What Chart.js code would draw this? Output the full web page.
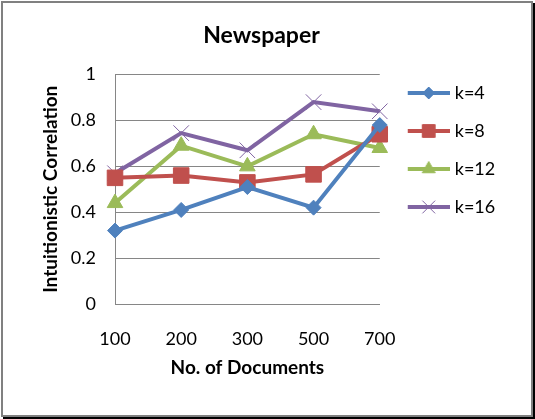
<!DOCTYPE html>
<html>
<head>
<meta charset="utf-8">
<script src="https://cdn.jsdelivr.net/npm/chart.js@4/dist/chart.umd.min.js"></script>
<style>
  body { margin: 0; background: #fff; }
  #wrap { position: relative; width: 535px; height: 419px; }
  #frame {
    position: absolute; left: 1px; top: 1px; width: 532px; height: 416px;
    box-sizing: border-box; border: 2px solid #808080;
    box-shadow: 2px 2px 0 #000; pointer-events: none;
  }
</style>
</head>
<body>
<div id="wrap">
  <canvas id="chart" width="535" height="419"></canvas>
  <div id="frame"></div>
</div>
<script>
const docs = ['100', '200', '300', '500', '700'];
const k4 = [0.32, 0.41, 0.51, 0.42, 0.78];
const k8 = [0.55, 0.56, 0.53, 0.565, 0.74];
const k12 = [0.44, 0.69, 0.60, 0.74, 0.68];
const k16 = [0.57, 0.745, 0.67, 0.88, 0.84];

const FONT = 'Lato';

// little line + marker picture for the legend
function legendIcon(color, style, radius, borderWidth) {
  const c = document.createElement('canvas');
  c.width = 54; c.height = 20;
  const g = c.getContext('2d');
  g.strokeStyle = color;
  g.lineWidth = 4;
  g.beginPath(); g.moveTo(12, 10); g.lineTo(54, 10); g.stroke();
  g.fillStyle = color;
  g.lineWidth = borderWidth;
  Chart.helpers.drawPoint(g, {pointStyle: style, radius: radius, borderWidth: borderWidth, rotation: 0}, 33, 10);
  return c;
}

function series(label, data, color, style, radius, bw, legendRadius) {
  return {
    label: label, data: data,
    borderColor: color, backgroundColor: color,
    borderWidth: 4, tension: 0,
    pointStyle: style, pointRadius: radius, pointHoverRadius: radius,
    pointBorderWidth: bw, pointBackgroundColor: color, pointBorderColor: color,
    clip: false,
    icon: legendIcon(color, style, legendRadius, bw)
  };
}

new Chart(document.getElementById('chart'), {
  type: 'line',
  data: {
    labels: docs,
    datasets: [
      series('k=4', k4, '#4F81BD', 'rectRot', 7.5, 1, 6),
      series('k=8', k8, '#C0504D', 'rect', 11, 1, 9),
      series('k=12', k12, '#9BBB59', 'triangle', 9, 1, 7.5),
      series('k=16', k16, '#8064A2', 'crossRot', 11, 1, 9)
    ]
  },
  options: {
    responsive: false,
    animation: false,
    events: [],
    layout: { padding: { left: 25, right: 37, top: 0, bottom: 0 } },
    plugins: {
      title: {
        display: true, text: 'Newspaper', color: '#000',
        font: { family: FONT, size: 23, weight: 'bold' },
        padding: { top: 22, bottom: 25 }
      },
      legend: {
        position: 'right', align: 'start',
        // empty title only pushes the entries down beside the plot
        title: { display: true, text: '', font: { size: 10, lineHeight: 1 }, padding: { top: 54, bottom: 0 } },
        labels: {
          usePointStyle: true, pointStyleWidth: 46, padding: 20,
          color: '#000', font: { family: FONT, size: 18 },
          generateLabels: chart => chart.data.datasets.map((ds, i) => ({
            text: ds.label, pointStyle: ds.icon, datasetIndex: i,
            fontColor: '#000', lineWidth: 0, hidden: false
          }))
        }
      },
      tooltip: { enabled: false }
    },
    scales: {
      x: {
        offset: false,
        grid: { display: false, drawTicks: false },
        border: { display: true, color: '#868686', width: 1 },
        ticks: { color: '#000', font: { family: FONT, size: 18 }, padding: 24, maxRotation: 0 },
        title: {
          display: true, text: 'No. of Documents', color: '#000',
          font: { family: FONT, size: 19, weight: 'bold' },
          padding: { top: 0, bottom: 40 }
        },
        afterFit(scale) { scale.height = 115; }
      },
      y: {
        min: 0, max: 1,
        grid: { color: '#868686', lineWidth: 1, drawTicks: false },
        border: { display: true, color: '#868686', width: 1 },
        ticks: {
          stepSize: 0.2, color: '#000', font: { family: FONT, size: 18 }, padding: 19,
          callback: v => String(+v.toFixed(1))
        },
        title: {
          display: true, text: 'Intuitionistic Correlation', color: '#000',
          font: { family: FONT, size: 19, weight: 'bold' },
          padding: { top: 14, bottom: 0 }
        },
        afterFit(scale) { scale.width = 90; }
      }
    }
  }
});
</script>
</body>
</html>
